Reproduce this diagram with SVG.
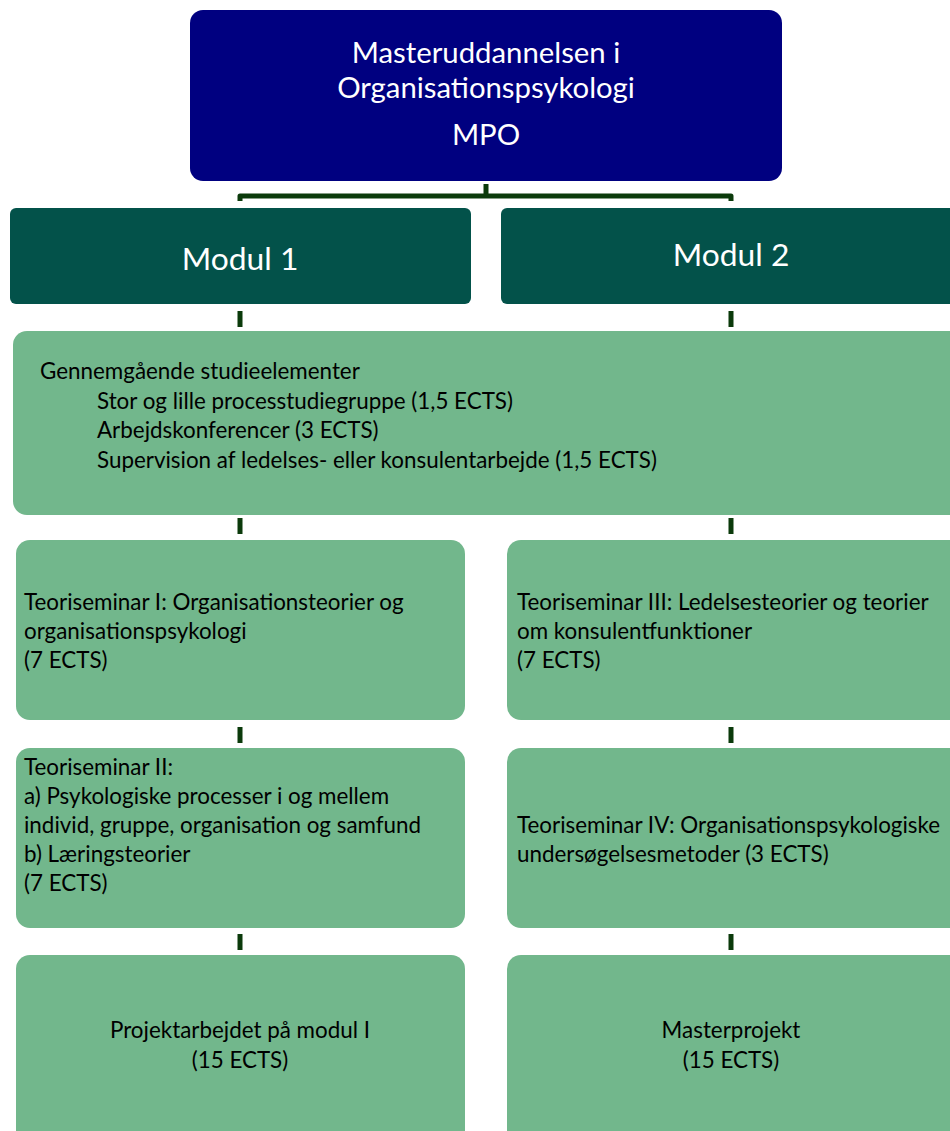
<svg xmlns="http://www.w3.org/2000/svg" width="950" height="1131" viewBox="0 0 950 1131">
<style>
.t{font-family:Lato,"Open Sans","Liberation Sans",sans-serif;font-size:22.4px;fill:#000}
.w{font-family:Lato,"Open Sans","Liberation Sans",sans-serif;fill:#fff}
.lg{fill:#72B78C}
.dg{fill:#03524A}
.tick{stroke:#0B3A0B;stroke-width:5;fill:none}
</style>
<g id="connectors">
<path class="tick" d="M486,184 V196 M240,201 V196 H731 V201" stroke-linejoin="round"/>
<path class="tick" d="M240,311 V327 M731,311 V327"/>
<path class="tick" d="M240,518 V534 M731,518 V534"/>
<path class="tick" d="M240,727 V743 M731,727 V743"/>
<path class="tick" d="M240,934 V950 M731,934 V950"/>
</g>
<g id="top">
<rect x="190" y="10" width="592" height="171" rx="13" fill="#000080"/>
<text class="w" font-size="29.3" x="486" y="63" text-anchor="middle">Masteruddannelsen i</text>
<text class="w" font-size="29.3" x="486" y="98" text-anchor="middle">Organisationspsykologi</text>
<text class="w" font-size="29.3" x="486" y="145" text-anchor="middle">MPO</text>
</g>
<g id="modul1">
<rect class="dg" x="10" y="208" width="461" height="96" rx="6"/>
<text class="w" font-size="31.8" x="240" y="270" text-anchor="middle">Modul 1</text>
</g>
<g id="modul2">
<rect class="dg" x="501" y="208" width="460" height="96" rx="6"/>
<text class="w" font-size="31.8" x="731" y="266" text-anchor="middle">Modul 2</text>
</g>
<g id="gennemgaaende">
<rect class="lg" x="13" y="331" width="950" height="184" rx="14"/>
<text class="t" x="40" y="379">Gennemgående studieelementer</text>
<text class="t" x="97" y="409">Stor og lille processtudiegruppe (1,5 ECTS)</text>
<text class="t" x="97" y="438">Arbejdskonferencer (3 ECTS)</text>
<text class="t" x="97" y="468">Supervision af ledelses- eller konsulentarbejde (1,5 ECTS)</text>
</g>
<g id="ts1">
<rect class="lg" x="16" y="540" width="449" height="180" rx="14"/>
<text class="t" x="24" y="610">Teoriseminar I: Organisationsteorier og</text>
<text class="t" x="24" y="639">organisationspsykologi</text>
<text class="t" x="24" y="668">(7 ECTS)</text>
</g>
<g id="ts3">
<rect class="lg" x="507" y="540" width="460" height="180" rx="14"/>
<text class="t" x="517" y="610">Teoriseminar III: Ledelsesteorier og teorier</text>
<text class="t" x="517" y="639">om konsulentfunktioner</text>
<text class="t" x="517" y="668">(7 ECTS)</text>
</g>
<g id="ts2">
<rect class="lg" x="16" y="748" width="449" height="180" rx="14"/>
<text class="t" x="24" y="775">Teoriseminar II:</text>
<text class="t" x="24" y="804">a) Psykologiske processer i og mellem</text>
<text class="t" x="24" y="833">individ, gruppe, organisation og samfund</text>
<text class="t" x="24" y="862">b) Læringsteorier</text>
<text class="t" x="24" y="891">(7 ECTS)</text>
</g>
<g id="ts4">
<rect class="lg" x="507" y="748" width="460" height="180" rx="14"/>
<text class="t" x="517" y="833">Teoriseminar IV: Organisationspsykologiske</text>
<text class="t" x="517" y="862">undersøgelsesmetoder (3 ECTS)</text>
</g>
<g id="projekt1">
<rect class="lg" x="16" y="955" width="449" height="200" rx="14"/>
<text class="t" x="240" y="1038" text-anchor="middle">Projektarbejdet på modul I</text>
<text class="t" x="240" y="1068" text-anchor="middle">(15 ECTS)</text>
</g>
<g id="masterprojekt">
<rect class="lg" x="507" y="955" width="460" height="200" rx="14"/>
<text class="t" x="731" y="1038" text-anchor="middle">Masterprojekt</text>
<text class="t" x="731" y="1068" text-anchor="middle">(15 ECTS)</text>
</g>
</svg>
